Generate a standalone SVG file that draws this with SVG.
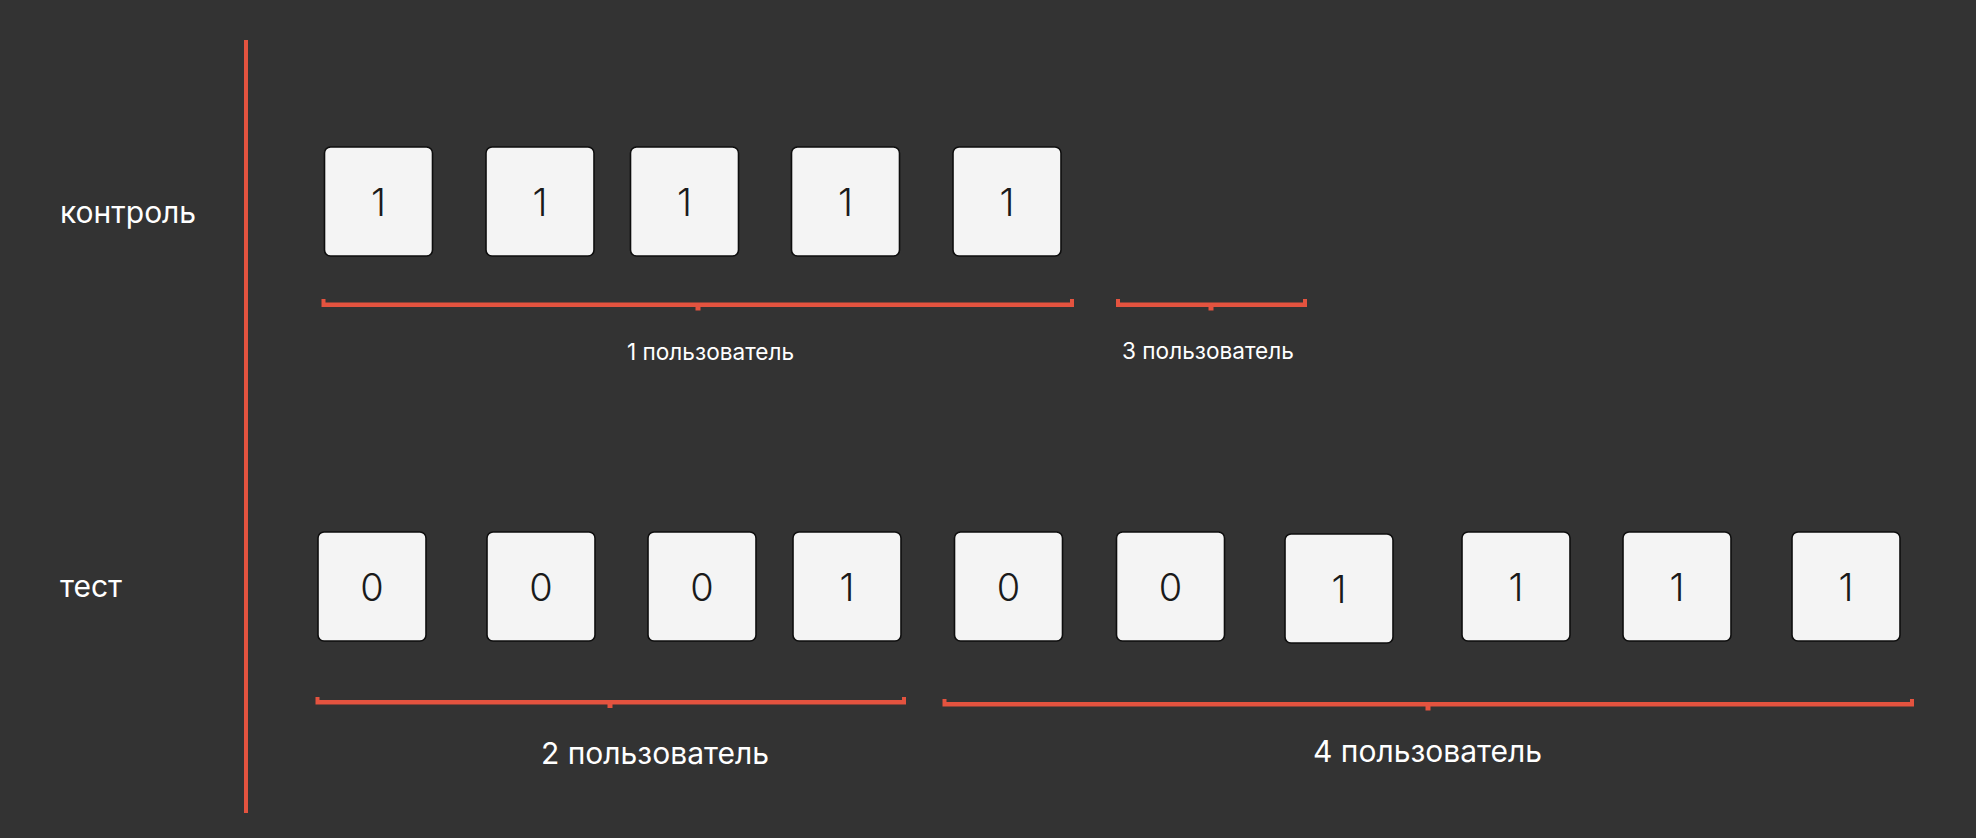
<svg xmlns="http://www.w3.org/2000/svg" width="1976" height="838" viewBox="0 0 1976 838">
  <style>
    .box { fill: #F4F4F4; stroke: #0E0E0E; stroke-width: 1.6; }
    .digit { font-family: Inter, "Liberation Sans", sans-serif; font-weight: 300; font-size: 38px; fill: #1A1A1A; text-anchor: middle; }
    .row { font-family: Inter, "Liberation Sans", sans-serif; font-size: 30px; fill: #FFFFFF; }
    .lbl-s { font-family: Inter, "Liberation Sans", sans-serif; font-size: 22.6px; fill: #FFFFFF; }
    .lbl-l { font-family: Inter, "Liberation Sans", sans-serif; font-size: 30px; fill: #FFFFFF; }
    .red { fill: #E4533F; }
  </style>
  <rect x="0" y="0" width="1976" height="838" fill="#333333"/>

  <g id="axis">
    <rect class="red" x="244" y="40" width="4" height="773"/>
  </g>

  <g id="row-labels">
    <text id="label-control" class="row" x="60" y="223">контроль</text>
    <text id="label-test" class="row" x="60" y="597">тест</text>
  </g>

  <g id="control-row">
    <g id="c1"><rect class="box" x="324.5" y="147" width="108" height="109" rx="6"/><text class="digit" x="378.5" y="216">1</text></g>
    <g id="c2"><rect class="box" x="486" y="147" width="108" height="109" rx="6"/><text class="digit" x="540" y="216">1</text></g>
    <g id="c3"><rect class="box" x="630.5" y="147" width="108" height="109" rx="6"/><text class="digit" x="684.5" y="216">1</text></g>
    <g id="c4"><rect class="box" x="791.5" y="147" width="108" height="109" rx="6"/><text class="digit" x="845.5" y="216">1</text></g>
    <g id="c5"><rect class="box" x="953" y="147" width="108" height="109" rx="6"/><text class="digit" x="1007" y="216">1</text></g>
  </g>

  <g id="test-row">
    <g id="t1"><rect class="box" x="318" y="532" width="108" height="109" rx="6"/><text class="digit" x="372" y="601">0</text></g>
    <g id="t2"><rect class="box" x="487" y="532" width="108" height="109" rx="6"/><text class="digit" x="541" y="601">0</text></g>
    <g id="t3"><rect class="box" x="648" y="532" width="108" height="109" rx="6"/><text class="digit" x="702" y="601">0</text></g>
    <g id="t4"><rect class="box" x="793" y="532" width="108" height="109" rx="6"/><text class="digit" x="847" y="601">1</text></g>
    <g id="t5"><rect class="box" x="954.5" y="532" width="108" height="109" rx="6"/><text class="digit" x="1008.5" y="601">0</text></g>
    <g id="t6"><rect class="box" x="1116.5" y="532" width="108" height="109" rx="6"/><text class="digit" x="1170.5" y="601">0</text></g>
    <g id="t7"><rect class="box" x="1285" y="534" width="108" height="109" rx="6"/><text class="digit" x="1339" y="603">1</text></g>
    <g id="t8"><rect class="box" x="1462" y="532" width="108" height="109" rx="6"/><text class="digit" x="1516" y="601">1</text></g>
    <g id="t9"><rect class="box" x="1623" y="532" width="108" height="109" rx="6"/><text class="digit" x="1677" y="601">1</text></g>
    <g id="t10"><rect class="box" x="1792" y="532" width="108" height="109" rx="6"/><text class="digit" x="1846" y="601">1</text></g>
  </g>

  <g id="brackets">
    <g id="bracket-1">
      <path class="red" d="M321.5 299 H325.5 V302.5 H1070 V299 H1074 V307 H700.5 V310.5 H695.5 V307 H321.5 Z"/>
    </g>
    <g id="bracket-3">
      <path class="red" d="M1116 299 H1120 V302.5 H1303 V299 H1307 V307 H1213.5 V310.5 H1208.5 V307 H1116 Z"/>
    </g>
    <g id="bracket-2">
      <path class="red" d="M315.5 697 H319.5 V700 H902 V697 H906 V704.5 H612.5 V708 H607.5 V704.5 H315.5 Z"/>
    </g>
    <g id="bracket-4">
      <path class="red" d="M942.5 699 H946.5 V702 H1910 V699 H1914 V706.5 H1430.5 V710.5 H1425.5 V706.5 H942.5 Z"/>
    </g>
  </g>

  <g id="bracket-labels">
    <text id="label-user1" class="lbl-s" x="627" y="360">1 пользователь</text>
    <text id="label-user3" class="lbl-s" x="1122" y="359">3 пользователь</text>
    <text id="label-user2" class="lbl-l" x="541" y="764">2 пользователь</text>
    <text id="label-user4" class="lbl-l" x="1313" y="762">4 пользователь</text>
  </g>
</svg>
